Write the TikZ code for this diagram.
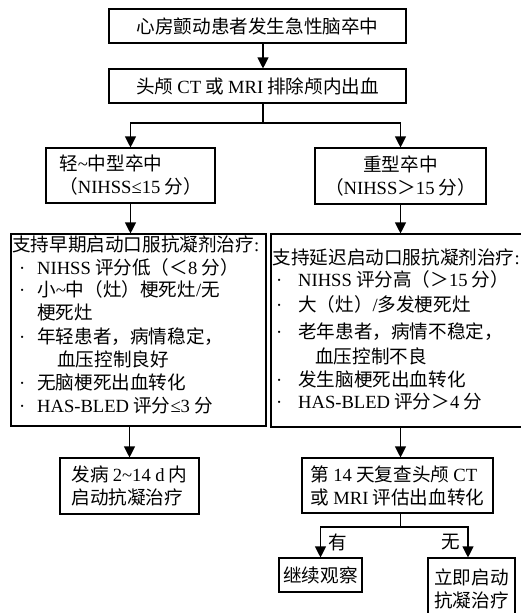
\documentclass[tikz,border=0pt]{standalone}
\usepackage{fontspec}
\setmainfont{Noto Sans CJK SC}
\newfontfamily\latf{Liberation Serif}
\usetikzlibrary{arrows.meta}
\newcommand{\La}[1]{{\latf #1}}
\newcommand{\tild}{{\latf\textasciitilde}}
\newcommand{\bul}[1]{\makebox[#1pt][l]{\La{·}}}
\begin{document}
\begin{tikzpicture}[x=1pt,y=-1pt,font=\fontsize{18.6}{23}\selectfont,
  box/.style={draw, line width=1.1pt, inner sep=0pt, align=center},
  arr/.style={line width=1.1pt, -{Triangle[length=11pt,width=11pt]}},
  con/.style={line width=1.1pt},
  ln/.style={anchor=west, inner sep=0pt, text height=15.5pt, text depth=2pt}]
\useasboundingbox (0,0) rectangle (520,613);
% boxes
\node[box, minimum width=297pt, minimum height=34pt] (b1) at (257.5,26) {心房颤动患者发生急性脑卒中};
\node[box, minimum width=297pt, minimum height=34pt] (b2) at (257.5,86) {头颅 \La{CT} 或 \La{MRI} 排除颅内出血};
\node[box, minimum width=169pt, minimum height=55pt, align=left] (ml) at (130.5,175.5) {轻\tild 中型卒中\\（\La{NIHSS≤15} 分）};
\node[box, minimum width=171pt, minimum height=56pt] (mr) at (400.5,176) {重型卒中\\（\La{NIHSS}＞\La{15} 分）};
\node[box, minimum width=255pt, minimum height=192pt] (bl) at (138.5,330) {};
\node[box, minimum width=260pt, minimum height=193pt] (br) at (401,330.5) {};
\node[box, minimum width=139pt, minimum height=56pt, align=left] (sl) at (129.5,486) {发病 \La{2\textasciitilde14 d} 内\\启动抗凝治疗};
\node[box, minimum width=191pt, minimum height=55pt, align=left] (sr) at (397.5,485.5) {第 \La{14} 天复查头颅 \La{CT}\\或 \La{MRI} 评估出血转化};
\node[box, minimum width=83pt, minimum height=34pt] (c1) at (320.5,575) {继续观察};
\node[box, minimum width=87pt, minimum height=62pt] (c2) at (471.5,589) {立即启动\\抗凝治疗};
% left list
\node[ln] (l1) at (12,245) {支持早期启动口服抗凝剂治疗\La{:}};
\node[ln] (l2) at (19,268) {\bul{18}\La{NIHSS} 评分低（＜\La{8} 分）};
\node[ln] (l3) at (19,290) {\bul{18}小\tild 中（灶）梗死灶\La{/}无};
\node[ln] (l4) at (37,313) {梗死灶};
\node[ln] (l5) at (19,337) {\bul{18}年轻患者，病情稳定，};
\node[ln] (l6) at (57,360) {血压控制良好};
\node[ln] (l7) at (19,383) {\bul{18}无脑梗死出血转化};
\node[ln] (l8) at (19,406) {\bul{18}\La{HAS-BLED} 评分\La{≤3} 分};
% right list
\node[ln] (r1) at (272.5,258) {支持延迟启动口服抗凝剂治疗\La{:}};
\node[ln] (r2) at (276,280) {\bul{22}\La{NIHSS} 评分高（＞\La{15} 分）};
\node[ln] (r3) at (276,305) {\bul{22}大（灶）\La{/}多发梗死灶};
\node[ln] (r4) at (276,332) {\bul{22}老年患者，病情不稳定，};
\node[ln] (r5) at (315,357) {血压控制不良};
\node[ln] (r6) at (276,380) {\bul{22}发生脑梗死出血转化};
\node[ln] (r7) at (276,402) {\bul{22}\La{HAS-BLED} 评分＞\La{4} 分};
% connectors
\draw[arr] ([xshift=5.5pt]b1.south) -- ([xshift=5.5pt]b2.north);
\coordinate (s1) at (263,123);
\draw[con] ([xshift=5.5pt]b2.south) -- (s1);
\draw[arr] (s1) -| (ml.north);
\draw[arr] (s1) -| (mr.north);
\draw[arr] (ml.south) -- (ml.south |- bl.north);
\draw[arr] (mr.south) -- (mr.south |- br.north);
\draw[arr] (sl.north |- bl.south) -- (sl.north);
\draw[arr] (mr.south |- br.south) -- (mr.south |- sr.north);
\coordinate (s2) at (400.5,527);
\draw[con] (mr.south |- sr.south) -- (s2);
\draw[arr] (s2) -| (c1.north);
\draw[arr] (s2) -| ([xshift=-3.5pt]c2.north);
\node (yes) at (337.5,542) {有};
\node (no) at (451,542) {无};
\end{tikzpicture}
\end{document}
